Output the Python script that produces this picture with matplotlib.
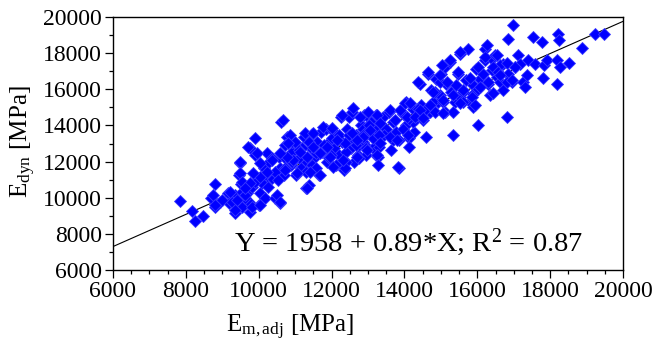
import matplotlib
matplotlib.use("Agg")
import matplotlib.pyplot as plt
from matplotlib.ticker import MultipleLocator

plt.rcParams['font.family'] = ['Liberation Serif', 'DejaVu Serif']
plt.rcParams['mathtext.fontset'] = 'custom'
plt.rcParams['mathtext.rm'] = 'Liberation Serif'
plt.rcParams['mathtext.it'] = 'Liberation Serif:italic'

# Measured data: E_m,adj (x) and E_dyn (y), MPa
e_m_adj = [
    7839, 8179, 8253, 8482, 8804, 8694, 8804, 8942, 9154, 9172, 9356, 9356, 9494, 9448, 9522,
    9430, 9540, 9678, 9724, 9770, 9816, 9770, 9908, 9889, 10000, 10046, 10000, 10184, 10138,
    10230, 10276, 10230, 10367, 10459, 10597, 10551, 10625, 10781, 10735, 10597, 10689, 10827,
    10919, 10873, 11011, 11057, 11103, 11149, 11241, 11287, 11379, 11333, 11425, 11471, 11517,
    11609, 11655, 11701, 11747, 11839, 11885, 11931, 12023, 12069, 12115, 12206, 12252, 12298,
    12344, 12436, 12482, 12574, 12528, 12620, 12666, 12712, 12804, 12850, 12896, 12942, 12988,
    13080, 13126, 13218, 13264, 13218,
    11195, 11563, 11793, 11977, 12160, 12390, 12574, 12758, 11471, 12023, 12206, 11103, 10919,
    10735, 10459, 10367, 10184, 10092, 9908, 9632, 9264, 9540, 12482, 12850, 13034,
    10735, 11287, 11563, 11931, 11379, 10919, 12942, 12390, 12666, 13126,
    12942, 12850, 12942, 12758, 13264, 13310, 13172, 13402, 13494, 13678, 13586, 13678, 13862,
    13862, 13954, 14046, 14138, 14120, 14230, 14322, 14414, 14460, 14506, 14598, 14644, 14736,
    14690, 14874, 14920, 14966, 15012, 15104, 15150, 15104, 15242, 15288, 15334, 15380, 15472,
    15518, 15518, 15610, 15702, 15748, 15794, 15886, 15886, 15978, 16024, 16070, 16162, 16208,
    16254, 16208, 16300, 16346, 16392, 16484, 16530, 16622, 16714, 16714, 16806, 16852, 16944,
    16990, 17036, 17128, 17174, 17266, 17312, 17358, 17404, 17542, 17588, 17772, 17800, 17818,
    17910, 18186, 18204, 18232, 18186, 18278, 18508, 18876, 19244, 19474,
    16622, 16392, 15886, 15334, 14782, 14276, 15058, 15610, 16438, 16852, 16576, 16024, 15426,
    14966,
    13034, 13126, 13448, 13770, 13954, 14230, 14368, 13310, 13632, 14046, 14598, 14828, 14138,
    # middle band
    10675, 10859, 11270, 10996, 10812, 11499, 11773, 12003, 12278, 12597, 12780, 13008, 13238,
    13604, 13741, 13878, 14015, 13329, 13055, 12871, 12552, 12368, 12141, 11866, 11682, 11499,
    11317, 11133, 10949, 10768, 10721, 11043, 11408, 11317, 11682, 12047, 12368, 12322, 12690,
    12964, 13238, 13329, 13604, 13832, 13283, 13787, 14106, 12690, 11957,
    # upper band
    15525, 15251, 15023, 14655, 14381, 14976, 15160, 15478, 15800, 16028, 16211, 16532, 16807,
    17035, 16623, 16302, 16074, 16440, 16807, 16944, 15616, 15846, 15525, 15342, 15067, 14792,
    14702, 14427, 14153, 14062, 14290, 14518, 14839, 15067, 15937,
    # lower band
    8736, 8984, 8800, 9212, 9486, 9486, 9533, 9395, 9349, 9623, 9761, 9807, 10035, 9714, 9944,
    10035, 10219, 10263, 10493, 10584, 10538, 10356, 10584, 10035, 9851, 9623,
]
e_dyn = [
    9814, 9261, 8709, 9003, 10735, 9998, 9464, 9777, 10237, 9685, 10145, 9132, 11895, 11251, 10735,
    9777, 9501, 10237, 9777, 9224, 10606, 12724, 13277, 12356, 11066, 10237, 9593, 9961, 11619,
    12448, 11987, 10882, 11066, 9961, 9685, 12264, 14198, 13369, 12908, 11619, 11251, 12356,
    12540, 11803, 11251, 12908, 12172, 11619, 13369, 10514, 10698, 11987, 12724, 13553, 12172,
    13093, 11251, 13645, 12540, 13829, 11987, 13093, 13737, 12724, 11803, 12356, 14474, 13093,
    11527, 13829, 14474, 14750, 12724, 11987, 13461, 12356, 14014, 13093, 14566, 13553, 12724,
    14198, 13277, 14566, 13461, 12356,
    12724, 12448, 12908, 12356, 13185, 12540, 13277, 12908, 11803, 13277, 13461, 12632, 11987,
    12172, 11435, 12172, 11251, 10790, 10882, 9961, 9777, 10329, 13461, 13829, 13829,
    11619, 11435, 11619, 12172, 13093, 13093, 12356, 11987, 12908, 12724,
    14566, 13461, 12724, 12172, 12264, 12816, 13829, 14474, 13829, 13185, 14750, 14198, 11619,
    13185, 14658, 14014, 13277, 12816, 14934, 14382, 16316, 15119, 14290, 13369, 16869, 15948,
    14750, 16592, 15303, 15671, 16869, 17237, 16316, 14750, 17513, 15856, 13461, 15303, 16869,
    17974, 15579, 15856, 16500, 18250, 15303, 16224, 15027, 17145, 14014, 16592, 16869, 18250,
    18434, 17606, 16316, 15671, 17698, 17882, 16685, 16408, 15948, 17421, 14474, 18803, 16408,
    19540, 17237, 17882, 17421, 16408, 16132, 16776, 17606, 18895, 17421, 18619, 16629, 17329,
    17606, 17606, 19079, 18711, 16316, 17237, 17477, 18287, 19079, 19079,
    17329, 17053, 15763, 14750, 15303, 13645, 15303, 15303, 17237, 16869, 16961, 16040, 16224,
    16408,
    14014, 13277, 13461, 13645, 13829, 14198, 14934, 13461, 12632, 15303, 14934, 15856, 14382,
    # middle band
    14301, 13471, 13565, 13100, 13012, 13565, 13930, 13841, 14578, 14947, 14483, 14760, 14578,
    14854, 14301, 14854, 15225, 14118, 13748, 13377, 13565, 13012, 13194, 12823, 12458, 12823,
    12270, 12547, 12087, 12270, 11534, 11350, 11440, 10521, 11257, 11717, 11628, 12087, 12270,
    12641, 12364, 13012, 13377, 11717, 11811, 13194, 13471, 13194, 12270,
    # upper band
    18081, 17621, 17345, 16974, 16421, 16791, 16421, 16974, 16609, 17251, 17804, 17898, 17437,
    17251, 16791, 16421, 16144, 15779, 16421, 16512, 15961, 15590, 15225, 15685, 15408, 15867,
    15131, 14854, 15225, 14483, 14483, 14395, 14760, 14672, 15131,
    # lower band
    10150, 9874, 9597, 10333, 11994, 11351, 10887, 9874, 9320, 10150, 10798, 9504, 9597, 12823,
    12458, 11163, 11440, 10610, 10150, 9780, 10981, 12087, 12458, 11905, 11351, 10521,
]

# Regression: Y = 1958 + 0.89*X
intercept = 1958
slope = 0.89
line_x = [6000, 20000]

x_ticks = [6000, 8000, 10000, 12000, 14000, 16000, 18000, 20000]
y_ticks = [6000, 8000, 10000, 12000, 14000, 16000, 18000, 20000]

fig = plt.figure(figsize=(6.54, 3.41), dpi=100)
ax = fig.add_axes([113/654, 1-270/341, 510/654, 253/341])

ax.plot(line_x, [intercept + slope*v for v in line_x], color='black', lw=0.8, zorder=1)
ax.plot(e_m_adj, e_dyn, linestyle='none', marker='D', ms=6.2, mfc='#0000ff',
        mec='#3a3aff', mew=0.6, zorder=2)

ax.set_xlim(6000, 20000)
ax.set_ylim(6000, 20000)
ax.set_xticks(x_ticks)
ax.set_yticks(y_ticks)
ax.xaxis.set_minor_locator(MultipleLocator(500))
ax.yaxis.set_minor_locator(MultipleLocator(1000))
ax.tick_params(which='both', direction='out', top=False, right=False, width=0.9,
               labelsize=17, colors='black')
ax.tick_params(which='major', length=6, pad=2)
ax.tick_params(which='minor', length=3)
for s in ax.spines.values():
    s.set_linewidth(1.0)

ax.set_xlabel(r'E$_{\mathrm{m,adj}}$ [MPa]', fontsize=18)
ax.set_ylabel(r'E$_{\mathrm{dyn}}$ [MPa]', fontsize=18)
ax.xaxis.set_label_coords((290-113)/510, (270-313)/253)
ax.yaxis.set_label_coords((38-113)/510, (270-142)/253)

ax.text((409-113)/510, (270-242)/253, r'Y = 1958 + 0.89*X; R$^{2}$ = 0.87',
        transform=ax.transAxes, ha='center', va='center', fontsize=20.5)

fig.savefig('out.png', dpi=100)
